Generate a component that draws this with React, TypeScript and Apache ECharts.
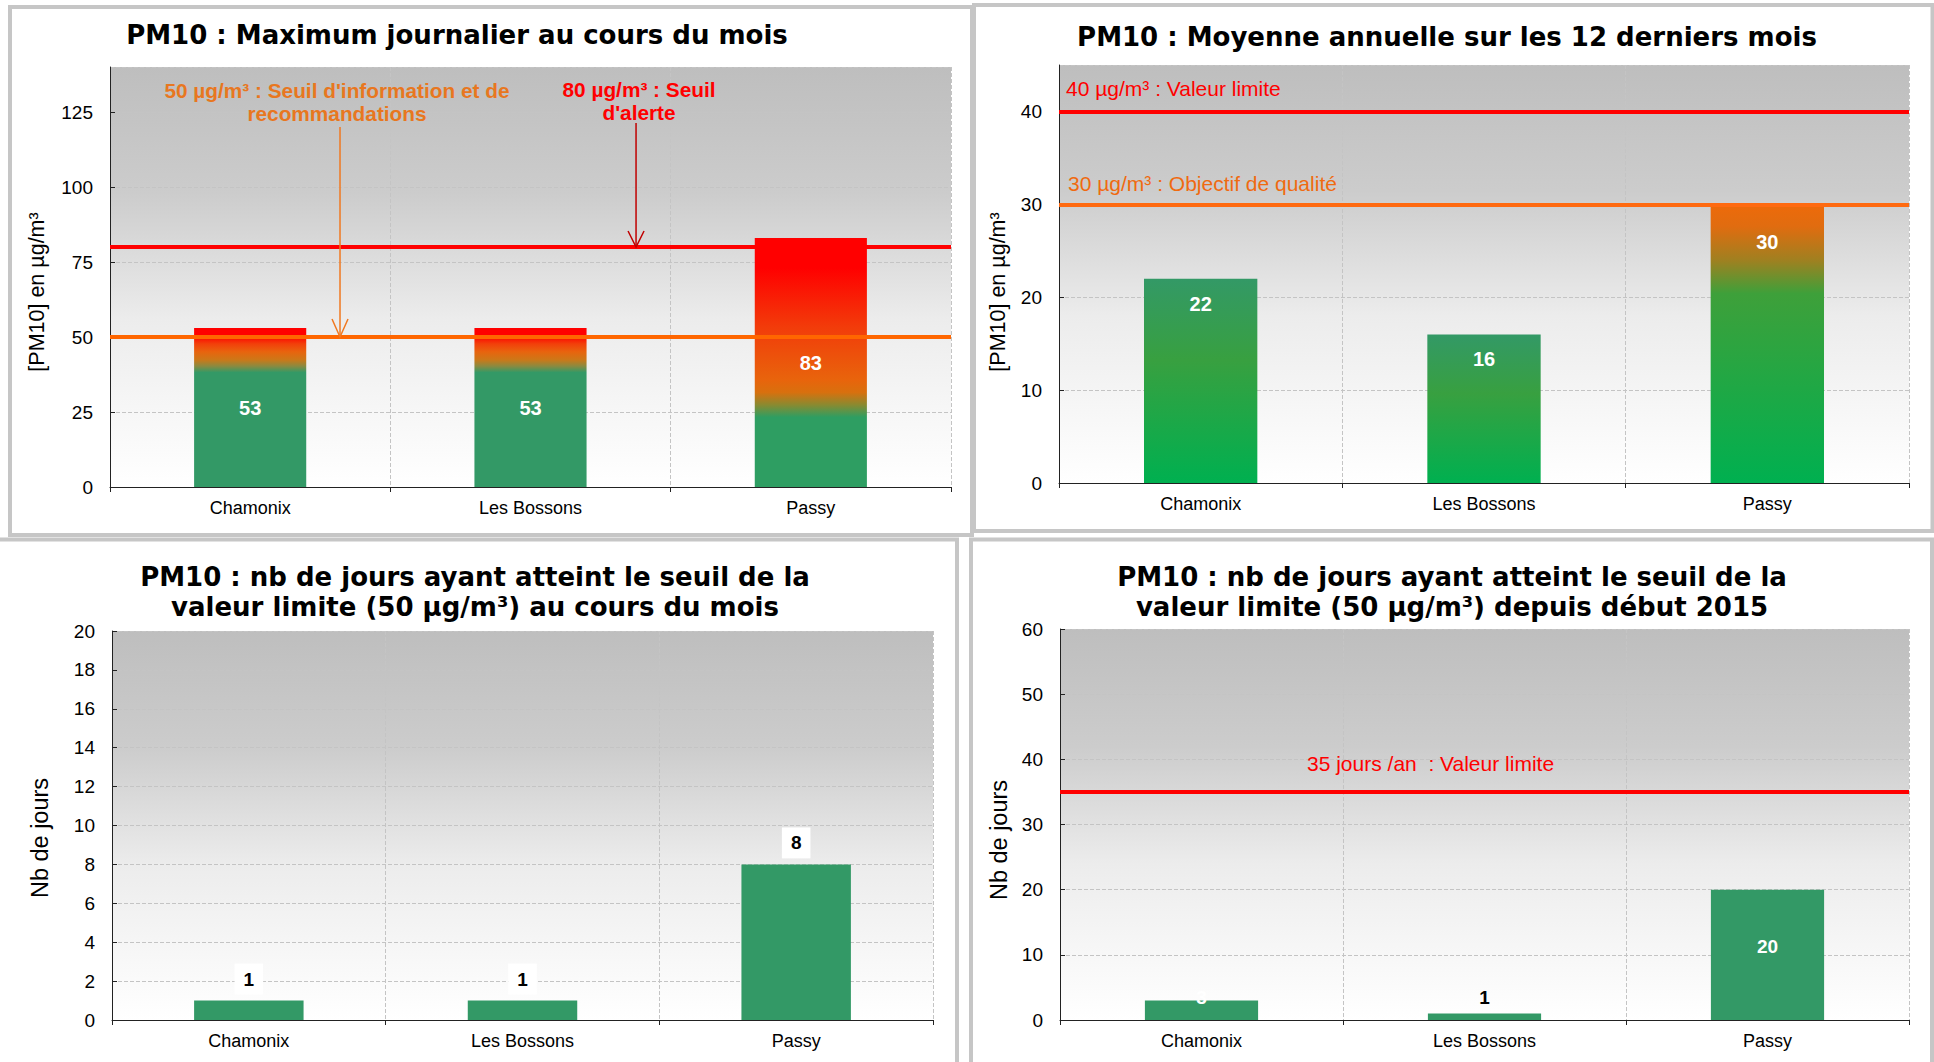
import React, { useEffect, useRef } from "react";
import * as echarts from "echarts";

// ---------- data ----------
const categories = ["Chamonix", "Les Bossons", "Passy"];
const maxJournalier = [53, 53, 83];
const moyenneAnnuelle = [22, 16, 30];
const joursMois = [1, 1, 8];
const joursDepuis2015 = [3, 1, 20];

const seuilInformation = 50;
const seuilAlerte = 80;
const valeurLimiteAnnuelle = 40;
const objectifQualite = 30;
const valeurLimiteJours = 35;

const titles = [
  "PM10 : Maximum journalier au cours du mois",
  "PM10 : Moyenne annuelle sur les 12 derniers mois",
  "PM10 : nb de jours ayant atteint le seuil de la\nvaleur limite (50 µg/m³) au cours du mois",
  "PM10 : nb de jours ayant atteint le seuil de la\nvaleur limite (50 µg/m³) depuis début 2015",
];
const yNames = ["[PM10] en µg/m³", "[PM10] en µg/m³", "Nb de jours", "Nb de jours"];
const annotInfo = "50 µg/m³ : Seuil d'information et de\nrecommandations";
const annotAlerte = "80 µg/m³ : Seuil\nd'alerte";
const labelValeurLimite = "40 µg/m³ : Valeur limite";
const labelObjectif = "30 µg/m³ : Objectif de qualité";
const labelJours = "35 jours /an  : Valeur limite";

// ---------- styles ----------
const ARIAL = 'Arial, "Liberation Sans", sans-serif';
const VERDANA = 'Verdana, "DejaVu Sans", sans-serif';
const GREEN = "#339966";

const grids = [
  { left: 110, top: 67, width: 841, height: 420 },
  { left: 1059, top: 65, width: 850, height: 418 },
  { left: 112, top: 631, width: 821, height: 389 },
  { left: 1060, top: 629, width: 849, height: 391 },
];
const yMax = [140, 45, 20, 60];
const yInterval = [25, 10, 2, 10];
const titlePos = [
  [457, 35],
  [1447, 37],
  [475, 592],
  [1452, 592],
];
const yNamePos = [
  [37, 292, 21.5],
  [998, 292, 21.5],
  [40, 838, 23.5],
  [999, 840, 23.5],
];

const grad = (stops: [number, string][]) =>
  new echarts.graphic.LinearGradient(
    0, 0, 0, 1,
    stops.map(([offset, color]) => ({ offset, color }))
  );

const bgGradient = () =>
  grad([
    [0, "#bebebe"],
    [0.3, "#cccccc"],
    [0.6, "#ececec"],
    [0.85, "#f8f8f8"],
    [1, "#ffffff"],
  ]);

const p1Stops: [number, string][][] = [
  [[0, "#ff0000"], [0.05, "#ff0000"], [0.1, "#f2400a"], [0.15, "#e8640e"], [0.2, "#cc7818"], [0.24, "#8a8a40"], [0.28, GREEN], [1, GREEN]],
  [[0, "#ff0000"], [0.05, "#ff0000"], [0.1, "#f2400a"], [0.15, "#e8640e"], [0.2, "#cc7818"], [0.24, "#8a8a40"], [0.28, GREEN], [1, GREEN]],
  [[0, "#ff0000"], [0.12, "#ff0000"], [0.36, "#f23c0a"], [0.57, "#e8640c"], [0.62, "#d8700e"], [0.67, "#8a8a30"], [0.72, "#2e9e62"], [1, "#2e9e62"]],
];
const p2Stops: [number, string][][] = [
  [[0, GREEN], [0.4, "#38a040"], [1, "#00b050"]],
  [[0, GREEN], [0.4, "#38a040"], [1, "#00b050"]],
  [[0, "#ee6a0a"], [0.08, "#e06c10"], [0.2, "#a08020"], [0.32, "#3ea03a"], [1, "#00b050"]],
];
const p2LabelDist = [15, 15, 28];

function buildOption() {
  const xAxis = grids.map((_, i) => ({
    type: "category",
    gridIndex: i,
    data: categories,
    axisLine: { show: true, lineStyle: { color: "#222", width: 1 } },
    axisTick: { show: true, length: 5, lineStyle: { color: "#222" } },
    axisLabel: { color: "#000", fontFamily: ARIAL, fontSize: 18, margin: 12 },
    splitLine: { show: true, lineStyle: { color: "#c4c4c4", type: "dashed", width: 1 } },
  }));
  const yAxis = grids.map((_, i) => ({
    type: "value",
    gridIndex: i,
    min: 0,
    max: yMax[i],
    interval: yInterval[i],
    axisLine: { show: true, lineStyle: { color: "#222", width: 1 } },
    axisTick: { show: true, inside: true, length: 5, lineStyle: { color: "#222" } },
    axisLabel: {
      color: "#000",
      fontFamily: ARIAL,
      fontSize: 19,
      margin: 17,
      showMaxLabel: i >= 2,
    },
    splitLine: { show: true, lineStyle: { color: "#c4c4c4", type: "dashed", width: 1 } },
  }));

  const hLine = (value: number, color: string, label?: any) => ({
    yAxis: value,
    lineStyle: { color, width: 4, type: "solid" },
    label: label ? { show: true, ...label } : { show: false },
  });

  const series: any[] = [
    {
      type: "bar",
      xAxisIndex: 0,
      yAxisIndex: 0,
      barWidth: "40%",
      data: maxJournalier.map((v, i) => ({ value: v, itemStyle: { color: grad(p1Stops[i]) } })),
      label: { show: true, position: "inside", color: "#fff", fontWeight: "bold", fontSize: 20, fontFamily: ARIAL },
      markLine: {
        silent: true,
        symbol: "none",
        animation: false,
        data: [hLine(seuilInformation, "#ff6600"), hLine(seuilAlerte, "#ff0000")],
      },
    },
    {
      type: "bar",
      xAxisIndex: 1,
      yAxisIndex: 1,
      barWidth: "40%",
      data: moyenneAnnuelle.map((v, i) => ({
        value: v,
        itemStyle: { color: grad(p2Stops[i]) },
        label: { distance: p2LabelDist[i] },
      })),
      label: { show: true, position: "insideTop", color: "#fff", fontWeight: "bold", fontSize: 20, fontFamily: ARIAL },
      markLine: {
        silent: true,
        symbol: "none",
        animation: false,
        data: [
          hLine(valeurLimiteAnnuelle, "#ff0000", {
            position: "insideStartTop",
            formatter: labelValeurLimite,
            color: "#ff0000",
            fontSize: 21,
            fontFamily: ARIAL,
            distance: [7, 12],
          }),
          hLine(objectifQualite, "#ff6a10", {
            position: "insideStartTop",
            formatter: labelObjectif,
            color: "#f06a10",
            fontSize: 21,
            fontFamily: ARIAL,
            distance: [9, 10],
          }),
        ],
      },
    },
    {
      type: "bar",
      xAxisIndex: 2,
      yAxisIndex: 2,
      barWidth: "40%",
      itemStyle: { color: GREEN },
      data: joursMois,
      label: {
        show: true,
        position: "top",
        distance: 6,
        color: "#000",
        fontWeight: "bold",
        fontSize: 19,
        fontFamily: ARIAL,
        backgroundColor: "#ffffff",
        padding: [6, 9],
      },
    },
    {
      type: "bar",
      xAxisIndex: 3,
      yAxisIndex: 3,
      barWidth: "40%",
      itemStyle: { color: GREEN },
      data: joursDepuis2015.map((v, i) => ({
        value: v,
        label:
          i === 0
            ? { position: "top", distance: -7, color: "#fff" }
            : i === 1
            ? { position: "top", distance: 6, color: "#000" }
            : { position: "inside", offset: [0, -8], color: "#fff" },
      })),
      label: { show: true, fontWeight: "bold", fontSize: 19, fontFamily: ARIAL },
      markLine: {
        silent: true,
        symbol: "none",
        animation: false,
        data: [
          hLine(valeurLimiteJours, "#ff0000", {
            position: "insideStartTop",
            formatter: labelJours,
            color: "#ff0000",
            fontSize: 21,
            fontFamily: ARIAL,
            distance: [247, 18],
          }),
        ],
      },
    },
  ];

  return {
    animation: false,
    backgroundColor: "#ffffff",
    grid: grids.map((g) => ({
      ...g,
      show: true,
      borderWidth: 0,
      backgroundColor: bgGradient(),
      containLabel: false,
    })),
    xAxis,
    yAxis,
    series,
  };
}

export default function App() {
  const ref = useRef<HTMLDivElement>(null);
  useEffect(() => {
    const chart = echarts.init(ref.current!, null, { renderer: "svg" });
    chart.setOption(buildOption() as any);

    const yPix = (gi: number, v: number) =>
      (chart.convertToPixel({ gridIndex: gi } as any, [0, v]) as number[])[1];
    const y50 = yPix(0, seuilInformation);
    const y80 = yPix(0, seuilAlerte);
    const g1 = grids[0];
    const xInfo = g1.left + g1.width * 0.2735;
    const xAlerte = g1.left + g1.width * 0.6255;

    const border = { fill: "none", stroke: "#c6c6c6", lineWidth: 4 };
    const graphic: any[] = [
      { type: "rect", shape: { x: 10, y: 7, width: 962, height: 528 }, style: border, silent: true },
      { type: "rect", shape: { x: 974, y: 5, width: 958.5, height: 526 }, style: border, silent: true },
      { type: "rect", shape: { x: -10, y: 539.5, width: 967, height: 600 }, style: border, silent: true },
      { type: "rect", shape: { x: 971, y: 539.5, width: 961, height: 600 }, style: border, silent: true },
    ];
    titles.forEach((t, i) => {
      graphic.push({
        type: "text",
        x: titlePos[i][0],
        y: titlePos[i][1],
        style: {
          text: t,
          fill: "#000",
          fontFamily: VERDANA,
          fontWeight: "bold",
          fontSize: 26,
          lineHeight: 30,
          align: "center",
          verticalAlign: "middle",
        },
      });
    });
    yNames.forEach((t, i) => {
      graphic.push({
        type: "text",
        x: yNamePos[i][0],
        y: yNamePos[i][1],
        rotation: Math.PI / 2,
        style: {
          text: t,
          fill: "#000",
          fontFamily: ARIAL,
          fontSize: yNamePos[i][2],
          align: "center",
          verticalAlign: "middle",
        },
      });
    });
    // Annotations panel 1
    graphic.push(
      {
        type: "text",
        x: 337,
        y: 102,
        z: 10,
        style: {
          text: annotInfo,
          fill: "#e8771f",
          fontFamily: ARIAL,
          fontWeight: "bold",
          fontSize: 20.8,
          lineHeight: 23.5,
          align: "center",
          verticalAlign: "middle",
        },
      },
      {
        type: "text",
        x: 639,
        y: 101,
        z: 10,
        style: {
          text: annotAlerte,
          fill: "#ff0000",
          fontFamily: ARIAL,
          fontWeight: "bold",
          fontSize: 20.8,
          lineHeight: 23.5,
          align: "center",
          verticalAlign: "middle",
        },
      },
      {
        type: "line",
        z: 10,
        shape: { x1: xInfo, y1: 127, x2: xInfo, y2: y50 },
        style: { stroke: "#f07820", lineWidth: 1.5 },
      },
      {
        type: "polyline",
        z: 10,
        shape: { points: [[xInfo - 8, y50 - 18], [xInfo, y50], [xInfo + 8, y50 - 18]] },
        style: { stroke: "#f07820", fill: "none", lineWidth: 1.5 },
      },
      {
        type: "line",
        z: 10,
        shape: { x1: xAlerte, y1: 123, x2: xAlerte, y2: y80 },
        style: { stroke: "#c00000", lineWidth: 1.5 },
      },
      {
        type: "polyline",
        z: 10,
        shape: { points: [[xAlerte - 8, y80 - 16], [xAlerte, y80], [xAlerte + 8, y80 - 16]] },
        style: { stroke: "#c00000", fill: "none", lineWidth: 1.5 },
      }
    );
    chart.setOption({ graphic });
    return () => chart.dispose();
  }, []);
  return (
    <div
      ref={ref}
      style={{ position: "absolute", left: 0, top: 0, width: 1934, height: 1062, background: "#fff" }}
    />
  );
}
